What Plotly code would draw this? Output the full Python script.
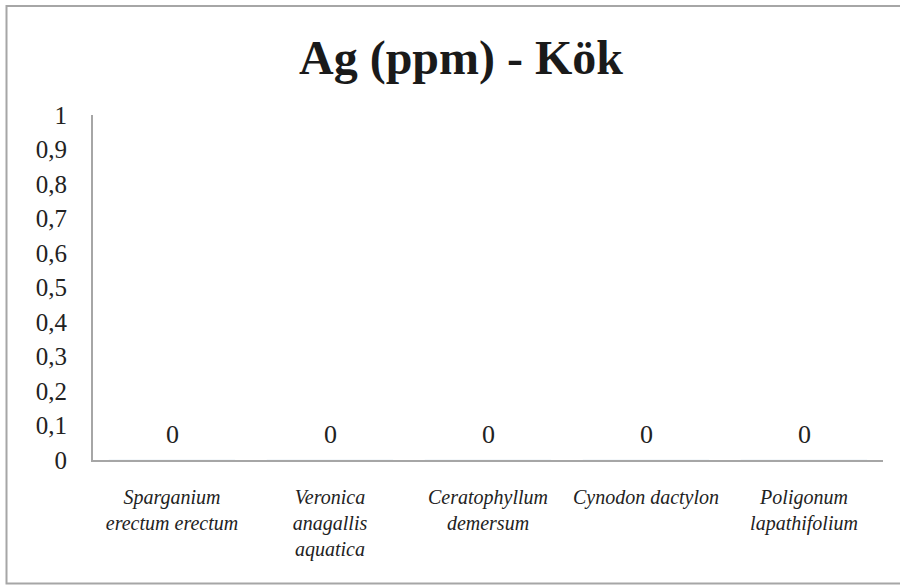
import plotly.graph_objects as go

categories = [
    "<i>Sparganium<br>erectum erectum</i>",
    "<i>Veronica<br>anagallis<br>aquatica</i>",
    "<i>Ceratophyllum<br>demersum</i>",
    "<i>Cynodon dactylon</i>",
    "<i>Poligonum<br>lapathifolium</i>",
]
values = [0, 0, 0, 0, 0]
ytick_vals = [0, 0.1, 0.2, 0.3, 0.4, 0.5, 0.6, 0.7, 0.8, 0.9, 1]
ytick_text = ["0", "0,1", "0,2", "0,3", "0,4", "0,5", "0,6", "0,7", "0,8", "0,9", "1"]

W, H = 900, 585
L, R, T, B = 93, 17, 115, 125
pw, ph = W - L - R, H - T - B

def px_x(p):
    return (p - L) / pw

def px_y(p):
    return (H - B - p) / ph

serif = "Liberation Serif"

fig = go.Figure()
fig.add_trace(go.Bar(
    x=list(range(len(categories))), y=values,
    marker_color="#4472c4", cliponaxis=False,
))

annotations = [
    dict(x=i, y=v, xref="x", yref="y", text=str(v), showarrow=False,
         yanchor="bottom", yshift=9,
         font=dict(family=serif, size=26, color="#222"))
    for i, v in enumerate(values)
]

fig.update_layout(
    width=W, height=H,
    margin=dict(l=L, r=R, t=T, b=B),
    paper_bgcolor="white", plot_bgcolor="white",
    showlegend=False,
    font=dict(family=serif),
    title=dict(text="<b>Ag (ppm) - Kök</b>", x=461 / W, xanchor="center",
               y=1 - 57 / H, yanchor="middle",
               font=dict(family=serif, size=48, color="#1a1a1a")),
    xaxis=dict(
        tickmode="array", tickvals=list(range(len(categories))), ticktext=categories,
        range=[-0.5, len(categories) - 0.5],
        showline=True, linecolor="#a6a6a6", linewidth=2,
        showgrid=False, zeroline=False, ticks="",
        tickfont=dict(family=serif, size=20, color="#222"),
        ticklabelstandoff=18,
    ),
    yaxis=dict(
        tickmode="array", tickvals=ytick_vals, ticktext=ytick_text,
        range=[0, 1],
        showline=True, linecolor="#a6a6a6", linewidth=2,
        showgrid=False, zeroline=False, ticks="",
        tickfont=dict(family=serif, size=25, color="#222"),
        ticklabelstandoff=19,
    ),
    annotations=annotations,
    shapes=[dict(
        type="rect", xref="paper", yref="paper",
        x0=px_x(6.5), x1=px_x(903), y0=px_y(583.5), y1=px_y(6),
        line=dict(color="#a6a6a6", width=2), fillcolor="rgba(0,0,0,0)",
        layer="below",
    )],
)

fig.write_html("out.html")
